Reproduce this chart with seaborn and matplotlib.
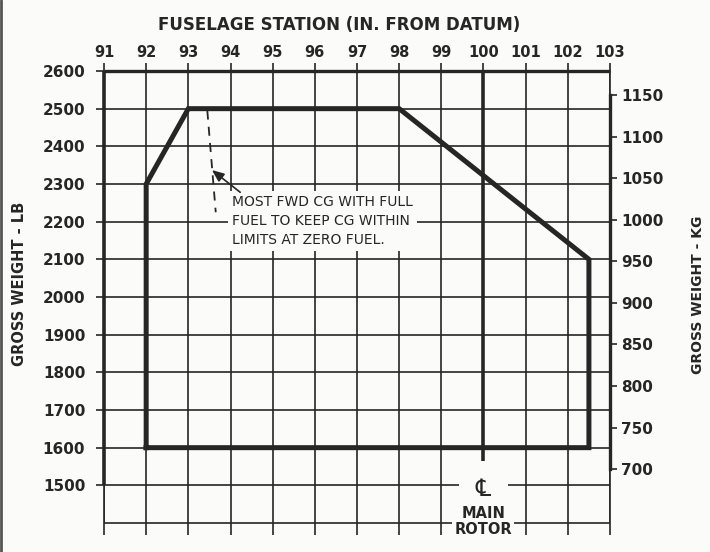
import numpy as np
import pandas as pd
import matplotlib
matplotlib.use("Agg")
import matplotlib.pyplot as plt
import seaborn as sns

# CG envelope (fuselage station in., gross weight lb)
cg_station = [92, 92, 93, 98, 102.5, 102.5, 92]
cg_weight = [1600, 2300, 2500, 2500, 2100, 1600, 1600]

# most forward CG with full fuel (dashed)
fwd_station = [93.45, 93.65]
fwd_weight = [2495, 2225]

stations = list(range(91, 104))
weights_lb = list(range(1500, 2700, 100))
weights_kg = list(range(700, 1200, 50))
LB_PER_KG = 2.20462
ROTOR_STA = 100

INK = "#262626"
BG = "#fbfbf9"

sns.set_theme(style="white")
plt.rcParams['font.family'] = ['DejaVu Sans']

fig = plt.figure(figsize=(7.1, 5.52), dpi=100, facecolor=BG)
ax = fig.add_axes([104 / 710, 1 - 523 / 552, 506 / 710, 452 / 552])
ax.set_facecolor(BG)
ax.set_xlim(91, 103)
ax.set_ylim(1400, 2600)

# grid drawn by hand so the rotor line can be left out
for s in stations:
    if s == ROTOR_STA:
        continue
    ax.vlines(s, 1400, 2600, color=INK, lw=1.2, zorder=1)
for w in weights_lb:
    ax.hlines(w, 91, 103, color=INK, lw=1.2, zorder=1)

# spines
for side in ["left", "right", "top", "bottom"]:
    ax.spines[side].set_visible(False)
ax.hlines(2600, 91, 103, color=INK, lw=2.4, zorder=2, clip_on=False)
ax.hlines(1400, 91, 103, color=INK, lw=1.2, zorder=1, clip_on=False)
ax.vlines(91, 1500, 2600, color=INK, lw=2.6, zorder=2, clip_on=False)
ax.vlines(91, 1400, 1500, color=INK, lw=1.2, zorder=1, clip_on=False)

# main rotor centreline
ax.vlines(ROTOR_STA, 1533, 2600, color=INK, lw=2.6, zorder=3, clip_on=False)

# envelope
env = pd.DataFrame({"station": cg_station, "weight": cg_weight})
sns.lineplot(data=env, x="station", y="weight", sort=False, estimator=None,
             color=INK, lw=3.6, ax=ax, zorder=4,
             solid_joinstyle="miter", solid_capstyle="projecting")
sns.lineplot(x=fwd_station, y=fwd_weight, sort=False, estimator=None,
             color=INK, lw=1.3, ax=ax, zorder=4, dashes=False)
ax.lines[-1].set_dashes([5, 4])

# top ticks (station)
ax.xaxis.set_ticks_position("top")
ax.xaxis.set_label_position("top")
ax.set_xticks(stations)
ax.set_xticklabels([str(s) for s in stations], fontsize=10.5, fontweight="bold", color=INK)
ax.tick_params(axis="x", which="major", top=True, bottom=False, direction="out",
               length=6, width=1.2, color=INK, pad=2)
ax.set_xlabel("")
fig.text(339 / 710, 1 - 25 / 552, "FUSELAGE STATION (IN. FROM DATUM)", ha="center",
         va="center", fontsize=12, fontweight="bold", color=INK)

# extension of verticals below the bottom line
for s in stations:
    if s == ROTOR_STA:
        continue
    ax.vlines(s, 1368, 1400, color=INK, lw=1.2, zorder=1, clip_on=False)

# left ticks (lb)
ax.set_yticks(weights_lb)
ax.set_yticklabels([str(w) for w in weights_lb], fontsize=11, fontweight="bold", color=INK)
ax.tick_params(axis="y", direction="out", left=True, length=5.5, width=1.2,
               color=INK, pad=8)
ax.set_ylabel("")
fig.text(20 / 710, 1 - 284 / 552, "GROSS WEIGHT - LB", rotation=90, ha="center",
         va="center", fontsize=10.5, fontweight="bold", color=INK)

# right axis (kg)
ax2 = ax.twinx()
ax2.set_ylim(1400 / LB_PER_KG, 2600 / LB_PER_KG)
for side in ["left", "top", "bottom"]:
    ax2.spines[side].set_visible(False)
ax2.spines["right"].set_bounds(700, 1150)
ax2.spines["right"].set_linewidth(2.4)
ax2.spines["right"].set_color(INK)
ax2.set_yticks(weights_kg)
ax2.set_yticklabels([str(w) for w in weights_kg], fontsize=11, fontweight="bold", color=INK)
ax2.tick_params(axis="y", direction="out", right=True, length=5, width=1.2,
                color=INK, pad=3)
ax2.grid(False)
ax.vlines(103, 1400, 2600, color=INK, lw=1.2, zorder=1, clip_on=False)
fig.text(698 / 710, 1 - 295 / 552, "GROSS WEIGHT - KG", rotation=90, ha="center",
         va="center", fontsize=10, fontweight="bold", color=INK)

# note with arrow
ax.text(94.03, 2270, "MOST FWD CG WITH FULL\nFUEL TO KEEP CG WITHIN\nLIMITS AT ZERO FUEL.",
        ha="left", va="top", fontsize=10, color=INK, linespacing=1.45, zorder=5,
        bbox=dict(boxstyle="square,pad=0.3", fc=BG, ec="none"))
ax.annotate("", xy=(93.56, 2337), xytext=(94.23, 2278), zorder=6,
            arrowprops=dict(arrowstyle="-|>,head_length=0.6,head_width=0.25",
                            color=INK, lw=1.2, shrinkA=0, shrinkB=0))

# main rotor label
ax.text(ROTOR_STA, 1490, "\u2104", ha="center", va="center", fontsize=17,
        color=INK, zorder=5, clip_on=False,
        bbox=dict(boxstyle="square,pad=0.7", fc=BG, ec="none"))
ax.text(ROTOR_STA, 1426, "MAIN", ha="center", va="center", fontsize=10.5,
        fontweight="bold", color=INK, zorder=5, clip_on=False)
ax.text(ROTOR_STA, 1383, "ROTOR", ha="center", va="center", fontsize=10.5,
        fontweight="bold", color=INK, zorder=5, clip_on=False,
        bbox=dict(boxstyle="square,pad=0.15", fc=BG, ec="none"))

# scan edge line
fig.add_artist(plt.Line2D([1.5 / 710, 1.5 / 710], [0, 1], color="#555555", lw=2))

fig.savefig("out.png", dpi=100, facecolor=BG)
